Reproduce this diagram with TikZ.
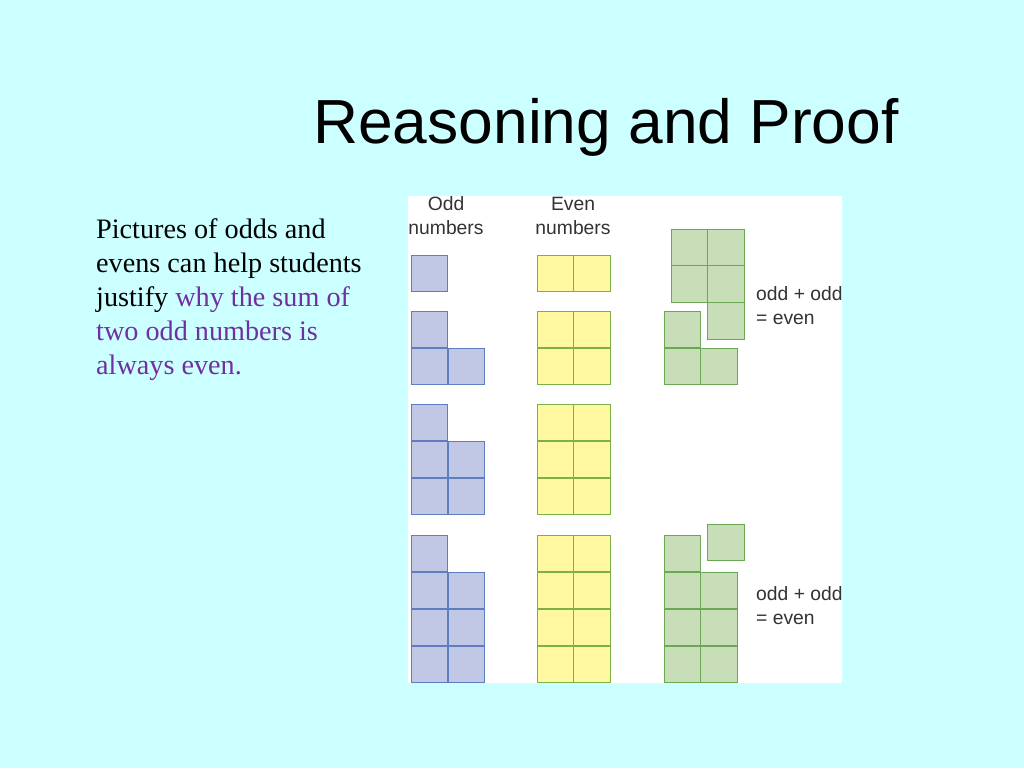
\documentclass[tikz,border=0pt]{standalone}
\usepackage{fontspec}
\setmainfont{Liberation Serif}
\newfontfamily\arialf{Liberation Sans}
\definecolor{bg}{HTML}{CCFFFF}
\definecolor{bfill}{HTML}{C0C8E6}\definecolor{bdraw}{HTML}{5E7EC0}
\definecolor{yfill}{HTML}{FFF8A0}\definecolor{ydraw}{HTML}{7CB048}
\definecolor{gfill}{HTML}{C8DEB8}\definecolor{gdraw}{HTML}{6AA855}
\definecolor{purp}{HTML}{7030A0}
\tikzset{bc/.style={fill=bfill,draw=bdraw,line width=1pt},
yc/.style={fill=yfill,draw=ydraw,line width=1pt},
gc/.style={fill=gfill,draw=gdraw,line width=1pt},
lab/.style={font=\arialf\fontsize{19.3}{22}\selectfont,text=black!80,inner sep=0pt}}
\newcommand{\sq}[3]{\draw[#3] (#1,#2) rectangle ++(36.7,36.7);}
\begin{document}
\begin{tikzpicture}[x=1pt,y=-1pt]
\fill[bg] (0,0) rectangle (1024,768);
\useasboundingbox (0,0) rectangle (1024,768);
\fill[white] (408,196) rectangle (842,683);
\node[font=\arialf\fontsize{62.3}{64}\selectfont,anchor=base] (title) at (606,143) {Reasoning and Proof};
\node[anchor=base west,align=left,inner sep=0pt,font=\fontsize{28.2}{34}\selectfont] (txt) at (96,374)
{Pictures of odds and\\evens can help students\\justify \textcolor{purp}{why the sum of}\\\textcolor{purp}{two odd numbers is}\\\textcolor{purp}{always even.}};
\node[lab,anchor=base] (h1) at (446,210) {Odd};
\node[lab,anchor=base] (h2) at (446,234) {numbers};
\node[lab,anchor=base] (h3) at (573,210) {Even};
\node[lab,anchor=base] (h4) at (573,234) {numbers};
\node[lab,anchor=base west] (l1) at (756,300) {odd + odd};
\node[lab,anchor=base west] (l2) at (756,324) {= even};
\node[lab,anchor=base west] (l3) at (756,600) {odd + odd};
\node[lab,anchor=base west] (l4) at (756,624) {= even};
% blue
\sq{411}{255}{bc}
\sq{411}{311}{bc}\sq{411}{348}{bc}\sq{448}{348}{bc}
\sq{411}{404}{bc}\foreach \r in {0,1}{\sq{411}{441+37*\r}{bc}\sq{448}{441+37*\r}{bc}}
\sq{411}{535}{bc}\foreach \r in {0,1,2}{\sq{411}{572+37*\r}{bc}\sq{448}{572+37*\r}{bc}}
% yellow
\sq{537}{255}{yc}\sq{573.5}{255}{yc}
\foreach \r in {0,1}{\sq{537}{311+37*\r}{yc}\sq{573.5}{311+37*\r}{yc}}
\foreach \r in {0,1,2}{\sq{537}{404+37*\r}{yc}\sq{573.5}{404+37*\r}{yc}}
\foreach \r in {0,1,2,3}{\sq{537}{535+37*\r}{yc}\sq{573.5}{535+37*\r}{yc}}
% green top
\foreach \r in {0,1}{\sq{671}{229+36.7*\r}{gc}\sq{707.7}{229+36.7*\r}{gc}}
\sq{707.7}{302.4}{gc}
\sq{664}{311}{gc}\sq{664}{348}{gc}\sq{700.7}{348}{gc}
% green bottom
\sq{707.7}{524}{gc}
\sq{664}{535}{gc}\foreach \r in {0,1,2}{\sq{664}{572+37*\r}{gc}\sq{700.7}{572+37*\r}{gc}}
\end{tikzpicture}
\end{document}
